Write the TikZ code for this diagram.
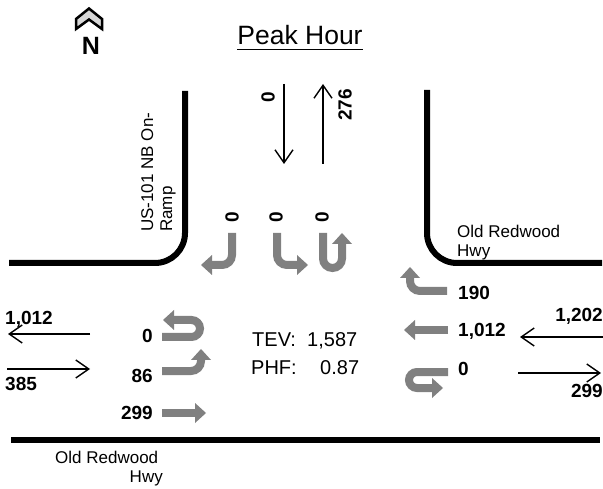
\documentclass[tikz,border=0pt]{standalone}
\usepackage{fontspec}
\setmainfont{Liberation Sans}
\usetikzlibrary{arrows.meta}
\definecolor{mvgray}{RGB}{128,128,128}
\definecolor{chev}{RGB}{215,215,215}
\begin{document}
\begin{tikzpicture}[x=1pt,y=-1pt,
  road/.style={line width=6pt},
  flow/.style={line width=1.4pt, -{Straight Barb[length=13pt,width=18pt]}},
  mv/.style={draw=mvgray, line width=8pt, -{Triangle[length=11pt,width=20pt,line width=0pt]}},
  num/.style={font=\bfseries\fontsize{19}{19}\selectfont, inner sep=0pt},
  lbl/.style={font=\fontsize{17}{19}\selectfont, inner sep=0pt},
  stat/.style={font=\fontsize{20}{20}\selectfont, inner sep=0pt}]
\useasboundingbox[fill=white] (0,0) rectangle (603,489);

% north arrow
\draw[fill=chev, line width=2.5pt, line join=miter] (76,29) -- (76,19) -- (89,8.5) -- (102,19) -- (102,29) -- (89,19.5) -- cycle;
\node[num, font=\bfseries\fontsize{25}{25}\selectfont, anchor=base] (north) at (91,55) {N};

% title
\node[font=\fontsize{26.5}{26.5}\selectfont, inner sep=0pt, anchor=base] (title) at (300,45) {Peak Hour};
\draw[line width=1.4pt] ([yshift=-4.5pt]title.base west) -- ([yshift=-4.5pt]title.base east);

% roads
\draw[road, rounded corners=30pt] (185,91) -- (185,263) -- (9,263);
\draw[road, rounded corners=30pt] (427,90) -- (427,263) -- (602,263);
\draw[road] (11,440) -- (600,440);

% road labels
\node[lbl, rotate=90, anchor=north west, align=left] (onramp) at (141,232) {US-101 NB On-\\Ramp};
\node[lbl, anchor=base west] (orwA) at (457,238) {Old Redwood};
\node[lbl, anchor=base west] (orwB) at (457,257) {Hwy};
\node[lbl, anchor=base west] (orwC) at (55,463) {Old Redwood};
\node[lbl, anchor=base east] (orwD) at (163,482) {Hwy};

% approach / departure volumes
\coordinate (nA) at (284,84); \coordinate (nB) at (284,164);
\coordinate (nC) at (323,164); \coordinate (nD) at (323,84);
\draw[flow] (nA) -- (nB);
\draw[flow] (nC) -- (nD);
\node[num, rotate=90] (nsin) at (268,97) {0};
\node[num, rotate=90] (nsout) at (345,105) {276};

\coordinate (wA) at (90,334); \coordinate (wB) at (8,334);
\coordinate (wC) at (7,369); \coordinate (wD) at (90,369);
\draw[flow] (wA) -- (wB);
\draw[flow] (wC) -- (wD);
\node[num, anchor=base west] (wout) at (5,325) {1,012};
\node[num, anchor=base west] (win) at (5,390) {385};

\coordinate (eA) at (603,337); \coordinate (eB) at (520,337);
\coordinate (eC) at (518,373); \coordinate (eD) at (601,373);
\draw[flow] (eA) -- (eB);
\draw[flow] (eC) -- (eD);
\node[num, anchor=base east] (ein) at (603,322) {1,202};
\node[num, anchor=base east] (eout) at (603,397) {299};

% southbound movements
\draw[mv, rounded corners=10pt] (232,233) -- (232,265) -- (201,265);
\draw[mv, rounded corners=10pt] (277,233) -- (277,265) -- (308,265);
\draw[mv, rounded corners=9.5pt] (323,233) -- (323,268) -- (342,268) -- (342,233);
\node[num, rotate=90] (sbl) at (232,217) {0};
\node[num, rotate=90] (sbt) at (276,217) {0};
\node[num, rotate=90] (sbu) at (322,217) {0};

% eastbound movements
\draw[mv, rounded corners=8.5pt] (162,337) -- (200,337) -- (200,320) -- (163,320);
\draw[mv, rounded corners=10pt] (162,371) -- (201,371) -- (201,349);
\draw[mv] (162,413) -- (206,413);
\node[num, anchor=base east] (ebu) at (153,343) {0};
\node[num, anchor=base east] (ebl) at (153,382) {86};
\node[num, anchor=base east] (ebt) at (153,419) {299};

% westbound movements
\draw[mv, rounded corners=10pt] (447,291) -- (410,291) -- (410,267);
\draw[mv] (448,330) -- (404,330);
\draw[mv, rounded corners=8pt] (448,372) -- (409,372) -- (409,388) -- (443,388);
\node[num, anchor=base west] (wbr) at (458,300) {190};
\node[num, anchor=base west] (wbt) at (458,337) {1,012};
\node[num, anchor=base west] (wbu) at (458,375) {0};

% statistics
\node[stat, anchor=base west] (tev) at (252,347) {TEV:};
\node[stat, anchor=base west] (tevv) at (307,347) {1,587};
\node[stat, anchor=base west] (phf) at (251,374) {PHF:};
\node[stat, anchor=base west] (phfv) at (320,374) {0.87};
\end{tikzpicture}
\end{document}
